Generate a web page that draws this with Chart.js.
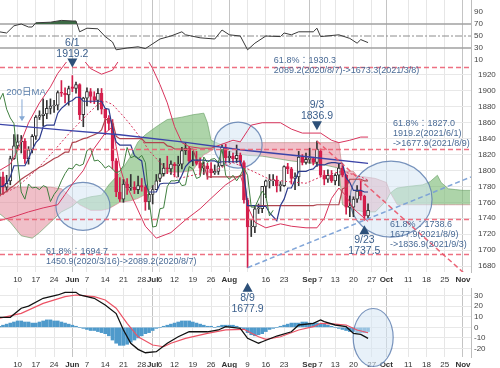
<!DOCTYPE html>
<html lang="ja">
<head>
<meta charset="utf-8">
<title>Gold daily</title>
<script src="https://cdn.jsdelivr.net/npm/chart.js@4.4.1/dist/chart.umd.min.js"></script>
<style>
  html, body { margin: 0; padding: 0; background: #fff; }
  .stage { position: relative; width: 500px; height: 368px; overflow: hidden; }
  .stage canvas { position: absolute; left: 0; top: 0; }
</style>
</head>
<body>
<div class="stage">
  <canvas id="rsiChart" width="500" height="368"></canvas>
  <canvas id="macdChart" width="500" height="368"></canvas>
  <canvas id="priceChart" width="500" height="368"></canvas>
</div>
<script>
const FONT = '"Liberation Sans", Arial, "Noto Sans CJK JP", sans-serif';
const X_MIN = 0.18;
const X_MAX = 129.2;

// x axis: one slot per trading day, 2021/5/3 = 0
const tickIdx = [5, 10, 15, 20, 24, 29, 34, 39, 42, 44, 48, 53, 58, 63, 68, 73, 78, 85, 88, 92, 97, 102, 106, 112, 117, 122, 127];
const tickLabels = ['10', '17', '24', 'Jun', '7', '14', '21', '28', 'Jul', '6', '12', '19', '26', 'Aug', '9', '16', '23', 'Sep', '7', '13', '20', '27', 'Oct', '11', '18', '25', 'Nov'];
const monthNames = ['Jun', 'Jul', 'Aug', 'Sep', 'Oct', 'Nov'];

// daily candles (5/3 - 9/24)
const opens = [1769,1792,1779,1787,1815,1831,1836,1837,1815,1826, 1843,1867,1869,1871,1878,1881,1882,1898,1897,1895,
  1905,1903,1908,1870,1891,1899,1893,1888,1897,1877, 1866,1859,1812,1773,1764,1783,1778,1779,1776,1781,
  1779,1761,1770,1776,1790,1796,1803,1802,1808,1806, 1808,1825,1828,1812,1812,1809,1803,1806,1802,1797,
  1799,1806,1829,1816,1818,1815,1819,1810,1763,1729, 1729,1752,1752,1780,1787,1787,1788,1781,1781,1805,
  1802,1790,1792,1817,1810,1814,1815,1810,1824,1794, 1789,1794,1787,1794,1803,1794,1754,1754,1764,1774,
  1768,1743];
const highs = [1798,1798,1794,1818,1845,1845,1844,1840,1830,1845, 1869,1875,1890,1888,1890,1888,1900,1913,1904,1906,
  1919.2,1911,1909,1892,1904,1903,1899,1903,1903,1877, 1869,1864,1815,1791,1789,1790,1795,1786,1793,1790,
  1781,1772,1781,1795,1815,1809,1818,1812,1810,1818, 1829,1834,1830,1824,1824,1816,1811,1809,1810,1807,
  1812,1832,1833,1824,1822,1832,1822,1812,1765,1738, 1755,1758,1780,1788,1795,1795,1793,1786,1806,1809,
  1804,1797,1824,1820,1822,1828,1816,1836.9,1827,1800, 1801,1800,1796,1808,1806,1795,1768,1767,1781,1787,
  1769,1758];
const lows = [1767,1770,1775,1782,1814,1826,1822,1809,1808,1822, 1839,1864,1856,1865,1871,1873,1876,1893,1885,1882,
  1899,1897,1864,1855,1881,1885,1884,1876,1871,1845, 1851,1802,1767,1761,1760,1770,1775,1771,1771,1774,
  1750,1751,1758,1776,1786,1793,1796,1795,1792,1792, 1802,1820,1810,1806,1807,1794,1795,1789,1791,1795,
  1795,1805,1809,1810,1810,1810,1806,1759,1677.9,1717, 1722,1746,1747,1766,1778,1781,1773,1774,1780,1796,
  1783,1776,1781,1807,1808,1809,1807,1805,1792,1782, 1785,1785,1782,1781,1792,1745,1742,1742,1760,1763,
  1737.5,1740];
const closes = [1792,1779,1784,1815,1831,1836,1837,1815,1826,1843, 1867,1869,1871,1878,1881,1882,1898,1897,1895,1903,
  1903,1908,1870,1891,1899,1893,1888,1897,1877,1866, 1859,1812,1773,1764,1783,1778,1779,1776,1781,1779,
  1761,1770,1776,1787,1796,1803,1802,1808,1806,1808, 1825,1828,1812,1813,1809,1803,1806,1802,1797,1799,
  1806,1829,1816,1818,1815,1819,1810,1763,1729,1730, 1752,1753,1780,1787,1787,1788,1781,1782,1805,1802,
  1790,1792,1817,1810,1814,1815,1810,1827,1794,1789, 1794,1787,1794,1803,1794,1754,1754,1764,1774,1768,
  1743,1750];

// ichimoku
const tenkan = [1780,1780,1784,1792,1806,1806,1806,1806, 1815,1826,1835,1840,1855,1857,1857,1857,
  1872,1878,1882,1886,1888,1892,1892,1887, 1887,1887,1887,1887,1887,1878,1877,1853,
  1836,1832,1832,1832,1832,1819,1815,1812, 1783,1773,1773,1773,1783,1784,1784,1784,
  1784,1785,1794,1805,1810,1813,1813,1813, 1813,1812,1812,1812,1810,1811,1811,1811,
  1811,1811,1812,1796,1756,1756,1756,1755, 1755,1755,1747,1742,1737,1756,1764,1778,
  1778,1788,1799,1799,1799,1801,1802,1807, 1807,1807,1809,1810,1810,1809,1809,1791,
  1785,1775,1775,1775,1773,1773];
const kijun = [1769,1771,1774,1778,1781, 1785,1789,1792,1795,1798, 1801,1804,1806,1809,1812, 1815,1817,1820,1823,1823,
  1835,1836,1838,1840,1841, 1843,1845,1847,1851,1864, 1864,1861,1843,1840,1840, 1840,1840,1840,1840,1840,
  1835,1835,1835,1835,1835, 1835,1831,1830,1827,1827, 1827,1827,1827,1827,1814, 1810,1807,1792,1792,1792,
  1792,1792,1792,1792,1792, 1792,1793,1796,1756,1756, 1756,1756,1756,1756,1756, 1756,1756,1756,1756,1756,
  1756,1756,1756,1756,1756, 1756,1756,1757,1757,1757, 1757,1757,1757,1757,1777, 1779,1789,1789,1789,1789,
  1787,1787];
const cloudIdx = [0,3,6,9,11,14,17,20,22,25, 28,30,33,36,38,40,43,46,50,53, 56,57,58,60,61,64,68,72,76,80,
  84,88,92,93,94,97,98,100,103,106, 107,108,109,112,116,118,120,121,123,125, 127,129];
const spanA = [1746,1735,1718,1715,1722,1735,1748,1755,1763,1767, 1769,1782,1797,1818,1836,1845,1855,1864,1867,1870,
  1872,1860,1838,1834,1832,1822,1819,1818,1815,1812, 1810,1808,1804,1803,1757,1751,1750,1748,1748,1762,
  1771,1775,1778,1780,1782,1786,1794,1785,1777,1776, 1775,1775];
const spanB = [1779,1779,1779,1779,1779,1779,1777,1765,1757,1750, 1750,1752,1760,1762,1765,1770,1785,1798,1798,1800,
  1820,1822,1825,1830,1834,1835,1835,1835,1835,1835, 1835,1835,1835,1835,1799,1799,1793,1792,1790,1785,
  1773,1765,1757,1757,1757,1757,1757,1757,1757,1757, 1757,1757];

// bollinger bands
const bbUpIdx = [0,3,5,8,11,14,16,19,22,25, 28,31,33,38,41,42,44,46,48,50, 52,55,58,61,64,66,68,69,72,77, 80,83,88,91,93,96,99,101];
const bbUpper = [1800,1808,1825,1860,1885,1905,1922,1940,1945,1928, 1921,1926,1940,1950,1936,1928,1908,1885,1855,1835,
  1830,1828,1828,1833,1838,1836,1850,1857,1860,1860, 1852,1847,1847,1838,1835,1838,1842,1842];
const bbLowIdx = [0,4,8,12,16,18,20,23,26,29, 31,32,33,34,36,40,43,47,51,55, 58,62,66,67,68,70,73,77,80,84, 87,89,91,93,95,97,100,101];
const bbLower = [1737,1742,1748,1753,1757,1770,1783,1800,1828,1847, 1855,1830,1805,1790,1770,1730,1715,1722,1738,1752,
  1765,1782,1794,1780,1755,1735,1728,1733,1730,1728, 1728,1740,1765,1778,1768,1752,1740,1736];
const bbMidIdx = [0,5,10,15,19,24,27,29,31,34, 36,39,41,44,46,49,54,59,64,69, 74,79,84,89,94,99,101];
const bbMid = [1768,1780,1800,1825,1846,1870,1883,1887,1883,1868, 1857,1839,1825,1810,1801,1790,1795,1800,1810,1800,
  1789,1786,1784,1794,1799,1792,1788];

const ma200Idx = [0, 17, 33, 50, 66, 85, 101];
const ma200 = [1858, 1851, 1845, 1836, 1826, 1817, 1809];

// RSI
const rsiIdx = [0,2,4,6,8,9,10,14,17,20, 21,22,24,27,29,31,32,35,38,40, 44,47,50,51,55,59,61,63,66,68,
  70,73,77,78,80,82,86,87,88,93, 96,98,99,101];
const rsiVal = [57,55,67,70,65,65,72,73,76,75, 75,57,63,62,49,40,27,30,32,29, 45,50,57,52,47,45,60,52,50,27,
  38,50,49,55,52,57,57,63,49,52, 46,38,44,39];
const rsiLevels = [70, 50, 30];

// MACD
const macdIdx = [0,3,6,8,12,16,18,21,22,26, 29,32,34,36,38,40,43,46,49,52, 57,60,62,66,68,71,72,76,80,82, 86,88,89,92,95,97,99,101];
const macdVal = [9.4,9.4,18,20,27.4,30.5,33,33,30.5,27.4, 21,13,-2.5,-15,-20.8,-24,-23,-15,-8.9,-4.2,
  -4.2,-2.5,0.6,-1,-10.4,-15,-13.6,-8.2,-4.2,2.2, 3.8,6.9,5.3,2.2,0.6,-5.7,-6.6,-10.4];
const sigIdx = [0,6,12,18,21,26,29,32,35,38, 42,45,47,51,57,62,67,71,73,77, 82,86,88,92,95,98,101];
const sigVal = [8.5,13.2,22.6,28.9,30.5,28.9,25.8,18,3.8,-8.9, -16.7,-18.3,-15,-10.4,-5.7,-2.5,-1.9,-8.9,-11.3,-8.9,
  -2.5,0.6,3.8,3.1,2.2,-2.5,-5.1];
const macdHist = [1,2,3,4,5, 6,6,5,5,4, 4,5,6,7,7, 6,6,5,4,3, 2,1,0,-1,-2, -3,-3,-4,-5,-6,
  -8,-12,-15,-17,-17, -16,-14,-12,-10,-8, -6,-5,-3,-1,0, 1,2,3,4,5, 6,6,6,5,4, 3,2,1,1,0,
  1,2,2,2,2, 1,0,-2,-5,-7, -8,-7,-6,-4,-2, -1,0,1,2,3, 4,4,4,5,5, 4,4,4,3,3,
  2,1,0,-1,-2, -3,-4,-4,-5,-5, -5,-4];

const priceTicks = [1680,1700,1720,1740,1760,1780,1800,1820,1840,1860,1880,1900,1920];
const rsiTicks = [10, 30, 50, 70, 90];
const macdTicks = [-20, -10, 0, 10, 20, 30];
const fibLevels = [1930.3, 1827.0, 1738.6, 1694.7];

const pts = (xs, ys) => xs.map((x, i) => ({ x: x, y: ys[i] }));
const dayIdx = closes.map((c, i) => i);
const isMonth = v => monthNames.includes(tickLabels[tickIdx.indexOf(v)]);

function lineSet(data, color, width, order, extra) {
  return Object.assign({
    type: 'line', data: data, borderColor: color, borderWidth: width,
    pointRadius: 0, fill: false, tension: 0, order: order
  }, extra || {});
}

function xAxis(showLabels, axisHeight, hidden) {
  return {
    type: 'linear', min: X_MIN, max: X_MAX, offset: false,
    afterBuildTicks: s => { s.ticks = tickIdx.map(v => ({ value: v })); },
    afterFit: s => { s.height = showLabels ? axisHeight : 0; s.paddingLeft = 0; s.paddingRight = 0; },
    grid: { offset: false, drawTicks: false, color: c => (c.tick && isMonth(c.tick.value)) ? '#c4c4c4' : '#e6e6e6' },
    border: { display: false },
    ticks: {
      display: showLabels, autoSkip: false, maxRotation: 0, padding: 3, color: '#333',
      font: c => ({ family: FONT, size: 8, weight: (c.tick && isMonth(c.tick.value)) ? 'bold' : 'normal' }),
      callback: v => {
        const k = tickIdx.indexOf(v);
        if (k < 0 || (hidden && hidden.includes(v))) return '';
        return tickLabels[k];
      }
    }
  };
}

function yAxis(min, max, ticks, pad, gridOn) {
  return {
    position: 'right', min: min, max: max, beginAtZero: false,
    afterBuildTicks: s => { s.ticks = ticks.map(v => ({ value: v })); },
    afterFit: s => { s.width = 29; s.paddingTop = 0; s.paddingBottom = 0; },
    grid: { display: gridOn, color: '#e8e8e8', drawTicks: false },
    border: { display: true, color: '#bdbdbd' },
    ticks: { padding: pad, color: '#444', font: { family: FONT, size: 8 }, callback: v => String(v) }
  };
}

function baseOptions(padding, scales) {
  return {
    responsive: false, animation: false, events: [],
    layout: { padding: padding },
    plugins: { legend: { display: false }, tooltip: { enabled: false } },
    scales: scales
  };
}

function drawEllipse(ctx, cx, cy, rx, ry) {
  ctx.beginPath();
  ctx.ellipse(cx, cy, rx, ry, 0, 0, Math.PI * 2);
  ctx.fillStyle = 'rgba(214,229,244,0.55)';
  ctx.fill();
  ctx.lineWidth = 1.2;
  ctx.strokeStyle = 'rgba(96,128,176,0.85)';
  ctx.stroke();
}

function text(ctx, str, x, y, size, color, align) {
  ctx.font = size + 'px ' + FONT;
  ctx.fillStyle = color;
  ctx.textAlign = align || 'left';
  ctx.textBaseline = 'middle';
  ctx.fillText(str, x, y);
}

// annotations
const circles = [
  { idx: 22.9, price: 1755, rx: 27, ry: 24 },
  { idx: 65.4, price: 1832, rx: 24, ry: 23 },
  { idx: 107.3, price: 1764, rx: 41, ry: 38 }
];
const trendLines = [
  { from: [68, 1677.9], via: [100, 1737.5], color: 'rgba(122,160,214,0.95)' },
  { from: [87, 1836.9], via: [99, 1787.5], color: 'rgba(234,84,104,0.9)' }
];
const marks = [
  { idx: 20, price: 1919.2, date: '6/1', dir: 'down', gap: 8 },
  { idx: 87, price: 1836.9, date: '9/3', dir: 'down', gap: 11 },
  { idx: 100, price: 1737.5, date: '9/23', dir: 'up', gap: 5 },
  { idx: 68, price: 1677.9, date: '8/9', dir: 'up', gap: 15 }
];
const fibNotes = [
  { level: 1930.3, idx: 75.2, dy: -6, lines: ['61.8%：1930.3', '2089.2(2020/8/7)->1673.3(2021/3/8)'] },
  { level: 1827.0, idx: 107.8, dy: -25, lines: ['61.8%：1827.0', '1919.2(2021/6/1)', '->1677.9(2021/8/9)'] },
  { level: 1738.6, idx: 107, dy: 5, lines: ['61.8%：1738.6', '1677.9(2021/8/9)', '->1836.9(2021/9/3)'] },
  { level: 1694.7, idx: 12.8, dy: -3, lines: ['61.8%：1694.7', '1450.9(2020/3/16)->2089.2(2020/8/7)'] }
];
const MARK = '#3b5f8c';
const NOTE = '#4a6b96';

const priceOverlay = {
  id: 'priceOverlay',
  afterDatasetDraw(chart, args) {
    if (args.index !== 1) return;
    const { ctx, scales: { x, y } } = chart;
    ctx.save();
    circles.forEach(c => drawEllipse(ctx, x.getPixelForValue(c.idx), y.getPixelForValue(c.price), c.rx, c.ry));
    ctx.restore();
  },
  afterDatasetsDraw(chart) {
    const { ctx, chartArea: a, scales: { x, y } } = chart;
    ctx.save();
    ctx.beginPath();
    ctx.rect(a.left, a.top, a.right - a.left, a.bottom - a.top);
    ctx.clip();
    ctx.setLineDash([5, 3]);
    ctx.lineWidth = 1.3;
    ctx.strokeStyle = 'rgba(236,96,116,0.9)';
    fibLevels.forEach(v => {
      const py = Math.round(y.getPixelForValue(v)) + 0.5;
      ctx.beginPath();
      ctx.moveTo(a.left, py);
      ctx.lineTo(a.right, py);
      ctx.stroke();
    });
    ctx.lineWidth = 1.5;
    trendLines.forEach(t => {
      const slope = (t.via[1] - t.from[1]) / (t.via[0] - t.from[0]);
      ctx.strokeStyle = t.color;
      ctx.beginPath();
      ctx.moveTo(x.getPixelForValue(t.from[0]), y.getPixelForValue(t.from[1]));
      ctx.lineTo(x.getPixelForValue(X_MAX), y.getPixelForValue(t.from[1] + slope * (X_MAX - t.from[0])));
      ctx.stroke();
    });
    ctx.restore();

    ctx.save();
    marks.forEach(m => {
      const px = x.getPixelForValue(m.idx);
      const py = y.getPixelForValue(m.price);
      ctx.fillStyle = '#2d5079';
      ctx.beginPath();
      if (m.dir === 'down') {
        const tip = py - m.gap;
        ctx.moveTo(px - 5, tip - 9);
        ctx.lineTo(px + 5, tip - 9);
        ctx.lineTo(px, tip);
        ctx.fill();
        text(ctx, m.price.toFixed(1), px, tip - 14, 10.5, MARK, 'center');
        text(ctx, m.date, px, tip - 25, 10.5, MARK, 'center');
      } else {
        const tip = py + m.gap;
        ctx.moveTo(px, tip);
        ctx.lineTo(px - 5, tip + 9);
        ctx.lineTo(px + 5, tip + 9);
        ctx.fill();
        text(ctx, m.date, px, tip + 15, 10.5, MARK, 'center');
        text(ctx, m.price.toFixed(1), px, tip + 26, 10.5, MARK, 'center');
      }
    });
    fibNotes.forEach(n => {
      const px = x.getPixelForValue(n.idx);
      const py = y.getPixelForValue(n.level) + n.dy;
      n.lines.forEach((s, k) => text(ctx, s, px, py + k * 10, 9, NOTE));
    });
    // 200-day MA tag with arrow
    const ax = x.getPixelForValue(6.2);
    const ay = y.getPixelForValue(1858) - 3;
    ctx.strokeStyle = '#86a9d4';
    ctx.fillStyle = '#86a9d4';
    ctx.lineWidth = 1;
    ctx.beginPath();
    ctx.moveTo(ax, ay - 22);
    ctx.lineTo(ax, ay - 3);
    ctx.stroke();
    ctx.beginPath();
    ctx.moveTo(ax, ay);
    ctx.lineTo(ax - 3, ay - 5);
    ctx.lineTo(ax + 3, ay - 5);
    ctx.fill();
    text(ctx, '200日MA', ax + 4, ay - 29, 9.5, '#5a7eaa', 'center');
    ctx.restore();
  }
};

const up = closes.map((c, i) => c >= opens[i]);
const BULL = '#333333';
const BEAR = '#d41f4c';

new Chart(document.getElementById('priceChart'), {
  type: 'bar',
  data: {
    datasets: [
      lineSet(pts(cloudIdx, spanB), 'rgba(214,120,138,0.8)', 0.8, 101),
      lineSet(pts(cloudIdx, spanA), 'rgba(104,160,100,0.8)', 0.8, 100,
        { fill: { target: 0, above: 'rgba(122,186,116,0.62)', below: 'rgba(226,128,146,0.5)' } }),
      {
        type: 'bar', data: dayIdx.map(i => ({ x: i, y: [lows[i], highs[i]] })),
        backgroundColor: up.map(u => u ? BULL : BEAR), barThickness: 1, grouped: false, order: 30
      },
      {
        type: 'bar', data: dayIdx.map(i => ({ x: i, y: [opens[i], closes[i]] })),
        backgroundColor: up.map(u => u ? '#ffffff' : BEAR), borderColor: up.map(u => u ? BULL : BEAR),
        borderWidth: 1, borderSkipped: false, barThickness: 3, minBarLength: 1, grouped: false, order: 29
      },
      lineSet(pts(bbUpIdx, bbUpper), '#d8345c', 1, 20),
      lineSet(pts(bbLowIdx, bbLower), '#d8345c', 1, 20),
      lineSet(pts(bbMidIdx, bbMid), '#d8345c', 1, 20, { borderDash: [2, 2] }),
      lineSet(pts(dayIdx, kijun), '#b0454f', 1.2, 15),
      lineSet(pts(dayIdx, tenkan), '#2c3b8d', 1.2, 14),
      lineSet(pts(ma200Idx, ma200), '#3b44a8', 1.4, 13),
      lineSet(dayIdx.map(i => ({ x: i - 26, y: closes[i] })), '#3f7f3f', 1, 12)
    ]
  },
  options: baseOptions({ top: 62, bottom: 82, left: 0, right: 0 }, {
    x: xAxis(true, 14, [68]),
    y: yAxis(1672.5, 1936.3, priceTicks, 7, true)
  }),
  plugins: [priceOverlay]
});

new Chart(document.getElementById('rsiChart'), {
  type: 'line',
  data: {
    datasets: [
      lineSet(pts(rsiIdx, rsiVal), '#3a3a3a', 1, 1,
        { fill: { target: { value: 70 }, above: '#3d6a45', below: 'rgba(0,0,0,0)' } })
    ].concat(rsiLevels.map(v => lineSet([{ x: X_MIN, y: v }, { x: X_MAX, y: v }],
      v === 50 ? '#8c8c8c' : '#a0a0a0', v === 50 ? 1 : 1.6, 5, v === 50 ? { borderDash: [7, 2, 2, 2] } : {})))
  },
  options: baseOptions({ top: 0, bottom: 302, left: 0, right: 0 }, {
    x: xAxis(false, 0),
    y: yAxis(0, 110, rsiTicks, 3, false)
  })
});

const macdOverlay = {
  id: 'macdOverlay',
  afterDatasetDraw(chart, args) {
    if (args.index !== 0) return;
    const { ctx, scales: { x, y } } = chart;
    ctx.save();
    drawEllipse(ctx, x.getPixelForValue(102.4), y.getPixelForValue(-9.6), 20, 29);
    ctx.restore();
  }
};

new Chart(document.getElementById('macdChart'), {
  type: 'bar',
  data: {
    datasets: [
      {
        type: 'bar', data: macdHist.map((v, i) => ({ x: i, y: v })),
        backgroundColor: '#4f9acb', borderWidth: 0, barThickness: 3, grouped: false, order: 10
      },
      lineSet(pts(sigIdx, sigVal), '#ec5365', 1.2, 3),
      lineSet(pts(macdIdx, macdVal), '#111111', 1.3, 2)
    ]
  },
  options: baseOptions({ top: 288, bottom: 0, left: 0, right: 0 }, {
    x: xAxis(true, 11),
    y: yAxis(-28, 37.1, macdTicks, 3, true)
  }),
  plugins: [macdOverlay]
});
</script>
</body>
</html>
